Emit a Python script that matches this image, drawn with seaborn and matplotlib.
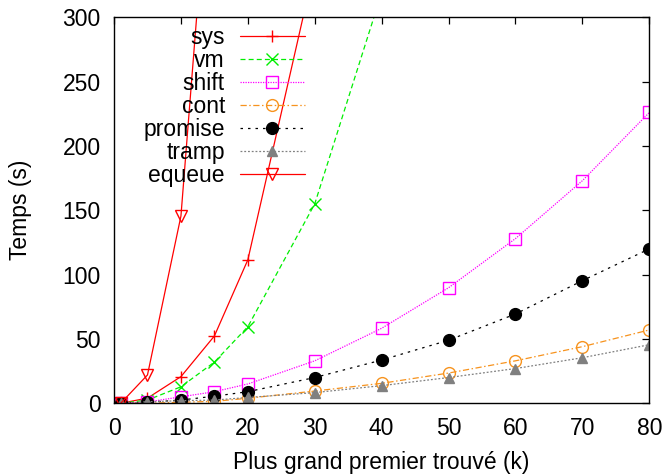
import matplotlib
matplotlib.use("Agg")
import matplotlib.pyplot as plt
import seaborn as sns
import pandas as pd

# ---- data ----
x_all = [1, 5, 10, 15, 20, 30, 40, 50, 60, 70, 80]
sys_x = [1, 5, 10, 15, 20, 30]
sys_y = [0, 4, 20.7, 52.3, 111.5, 340]
vm_x = [1, 5, 10, 15, 20, 30, 40]
vm_y = [0, 2.5, 12.8, 32, 59.5, 155, 319]
shift_y = [0, 1, 5, 9, 15, 33, 58.3, 89.8, 128, 173, 226]
cont_y = [0, 0, 0.8, 1.5, 3.9, 9.5, 15.5, 23.5, 33, 44, 57]
promise_y = [0, 0.8, 2.5, 5.5, 9, 20, 33.6, 49, 69.4, 95.3, 120]
tramp_y = [0, 1.2, 2, 2.5, 4.5, 8.3, 13.7, 20, 27, 35.4, 45.5]
equeue_x = [1, 5, 10, 15]
equeue_y = [0, 22, 145.5, 475]

series_names = ["sys", "vm", "shift", "cont", "promise", "tramp", "equeue"]
xlabel = "Plus grand premier trouvé (k)"
ylabel = "Temps (s)"
xticks = [0, 10, 20, 30, 40, 50, 60, 70, 80]
yticks = [0, 50, 100, 150, 200, 250, 300]

sns.set_theme(style="white")
plt.rcParams["font.family"] = ["Liberation Sans", "DejaVu Sans"]
plt.rcParams["text.color"] = "black"
plt.rcParams["axes.labelcolor"] = "black"
plt.rcParams["xtick.color"] = "black"
plt.rcParams["ytick.color"] = "black"

FS = 16.5

fig = plt.figure(figsize=(6.68, 4.75), dpi=100)
ax = fig.add_axes([0.1707, 0.151, 0.972 - 0.1707, 0.9636 - 0.151])

lw = 0.9
styles = {
    "sys": dict(color="#ff0000", marker="+", linestyle="-", mfc="#ff0000", ms=9),
    "vm": dict(color="#00ee00", marker="x", linestyle=(0, (4, 2.5)), mfc="#00ee00", ms=8.5),
    "shift": dict(color="#ff00ff", marker="s", linestyle=(0, (1, 1)), mfc="none", ms=8.5),
    "cont": dict(color="#f7931e", marker="o", linestyle=(0, (5, 2, 1.2, 2)), mfc="none", ms=8.5),
    "promise": dict(color="#000000", marker="o", linestyle=(0, (2, 4)), mfc="#000000", ms=8.5),
    "tramp": dict(color="#808080", marker="^", linestyle=(0, (1.5, 1.5)), mfc="#808080", ms=7.5),
    "equeue": dict(color="#ff0000", marker="v", linestyle="-", mfc="none", ms=8.5),
}
data = {
    "sys": (sys_x, sys_y),
    "vm": (vm_x, vm_y),
    "shift": (x_all, shift_y),
    "cont": (x_all, cont_y),
    "promise": (x_all, promise_y),
    "tramp": (x_all, tramp_y),
    "equeue": (equeue_x, equeue_y),
}

for name in series_names:
    xs, ys = data[name]
    st = styles[name]
    df = pd.DataFrame({"x": xs, "y": ys})
    sns.lineplot(data=df, x="x", y="y", ax=ax, color=st["color"], marker=st["marker"],
                 linestyle=st["linestyle"], markerfacecolor=st["mfc"],
                 markeredgecolor=st["color"], markeredgewidth=1.0,
                 markersize=st["ms"], linewidth=lw, label=name, clip_on=True)

ax.set_xlim(0, 80)
ax.set_ylim(0, 300)
ax.set_xticks(xticks)
ax.set_yticks(yticks)
ax.tick_params(direction="in", length=5, width=0.9, top=True, right=True,
               labelsize=FS, colors="black")
ax.tick_params(axis="x", pad=10)
ax.tick_params(axis="y", pad=9.5)
ax.set_xlabel(xlabel, fontsize=FS, labelpad=8)
ax.set_ylabel(ylabel, fontsize=FS, labelpad=22)
for s in ax.spines.values():
    s.set_color("black")
    s.set_linewidth(1.0)

leg = ax.legend(loc="upper right", bbox_to_anchor=(0.3567, 0.978), frameon=False,
                markerfirst=False, fontsize=FS, handlelength=2.84,
                handletextpad=0.65, labelspacing=0.0, borderaxespad=0.0,
                borderpad=0.0)

fig.savefig("out.png", dpi=100)
